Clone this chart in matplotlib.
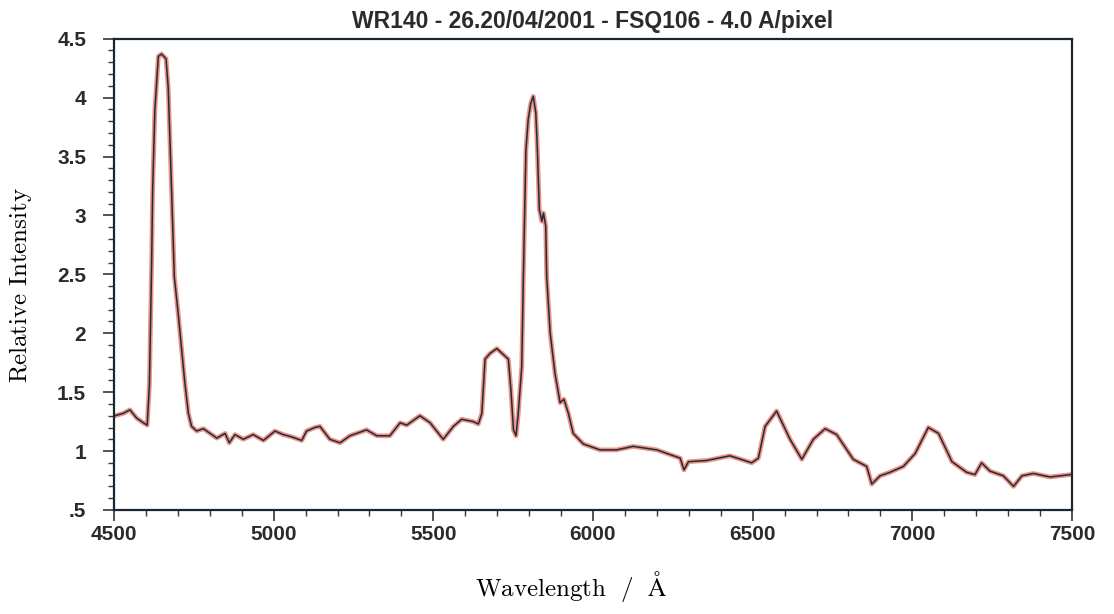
import matplotlib.pyplot as plt
from matplotlib.ticker import MultipleLocator

plt.rcParams["mathtext.fontset"] = "cm"

# Spectrum (wavelength in Angstrom, relative intensity)
wavelength = [
    4503, 4529, 4550, 4571, 4592, 4604, 4611, 4618, 4621, 4628, 4639, 4649,
    4663, 4670, 4679, 4689, 4701, 4712, 4722, 4733, 4743, 4759, 4780, 4801,
    4822, 4848, 4861, 4879, 4905, 4936, 4968, 5004, 5030, 5057, 5088, 5103,
    5129, 5145, 5176, 5208, 5239, 5291, 5323, 5364, 5396, 5417, 5458, 5490,
    5531, 5563, 5589, 5625, 5641, 5652, 5662, 5678, 5699, 5719, 5735, 5743,
    5751, 5759, 5766, 5777, 5782, 5790, 5797, 5805, 5813, 5821, 5826, 5832,
    5840, 5845, 5852, 5855, 5866, 5881, 5897, 5909, 5923, 5938, 5970, 6022,
    6074, 6126, 6200, 6273, 6285, 6299, 6356, 6429, 6497, 6518, 6539, 6575,
    6617, 6654, 6690, 6727, 6763, 6815, 6857, 6873, 6899, 6930, 6972, 7009,
    7050, 7082, 7124, 7170, 7196, 7217, 7243, 7285, 7317, 7343, 7379, 7431,
    7494,
]
intensity = [
    1.30, 1.32, 1.35, 1.28, 1.24, 1.22, 1.56, 2.60, 3.20, 3.89, 4.35, 4.37,
    4.33, 4.08, 3.33, 2.48, 2.17, 1.86, 1.58, 1.32, 1.21, 1.17, 1.19, 1.15,
    1.11, 1.15, 1.07, 1.14, 1.10, 1.14, 1.09, 1.17, 1.14, 1.12, 1.09, 1.17,
    1.20, 1.21, 1.10, 1.07, 1.13, 1.18, 1.13, 1.13, 1.24, 1.22, 1.30, 1.24,
    1.10, 1.21, 1.27, 1.25, 1.23, 1.32, 1.78, 1.83, 1.87, 1.82, 1.78, 1.52,
    1.18, 1.13, 1.32, 1.72, 2.48, 3.55, 3.81, 3.95, 4.01, 3.87, 3.55, 3.05,
    2.95, 3.02, 2.91, 2.48, 2.00, 1.66, 1.41, 1.44, 1.32, 1.15, 1.06, 1.01,
    1.01, 1.04, 1.01, 0.94, 0.84, 0.91, 0.92, 0.96, 0.90, 0.94, 1.21, 1.34,
    1.10, 0.93, 1.10, 1.19, 1.14, 0.93, 0.87, 0.72, 0.79, 0.82, 0.87, 0.98,
    1.20, 1.15, 0.91, 0.82, 0.80, 0.90, 0.83, 0.79, 0.70, 0.79, 0.81, 0.78,
    0.80,
]

x_ticks = [4500, 5000, 5500, 6000, 6500, 7000, 7500]
y_ticks = [0.5, 1, 1.5, 2, 2.5, 3, 3.5, 4, 4.5]
y_tick_labels = [".5", "1", "1.5", "2", "2.5", "3", "3.5", "4", "4.5"]

title = "WR140 - 26.20/04/2001 - FSQ106 - 4.0 A/pixel"

fig = plt.figure(figsize=(11.14, 6.14), dpi=100)
ax = fig.add_axes([0.1023, 0.1694, 0.86, 0.7676])

# reddish halo under the dark trace, like the scanned original
ax.plot(wavelength, intensity, color="#e8705e", lw=3.4, alpha=0.75)
ax.plot(wavelength, intensity, color="#1e2c3c", lw=1.1)

ax.set_xlim(4500, 7500)
ax.set_ylim(0.5, 4.5)

ax.set_xticks(x_ticks)
ax.set_yticks(y_ticks)
ax.set_yticklabels(y_tick_labels)
ax.xaxis.set_minor_locator(MultipleLocator(100))
ax.yaxis.set_minor_locator(MultipleLocator(0.1))

tick_font = {"family": "Liberation Sans", "weight": "bold", "size": 15}
for lab in ax.get_xticklabels() + ax.get_yticklabels():
    lab.set_fontproperties(tick_font)
    lab.set_color("#2b2b2b")

ax.tick_params(which="major", direction="out", length=8, width=1.2,
               color="#2a3a48")
ax.tick_params(which="minor", direction="out", length=4, width=1.0,
               color="#2a3a48")
ax.tick_params(axis="y", which="major", pad=12)
ax.tick_params(axis="x", which="major", pad=3)

for side in ["left", "right", "top", "bottom"]:
    ax.spines[side].set_color("#1a2630")
    ax.spines[side].set_linewidth(1.6)

ax.set_title(title, fontfamily="Liberation Sans", fontweight="bold",
             fontsize=16.5, color="#2b2b2b", pad=8)

ax.set_xlabel(r"$\mathrm{Wavelength\ \ /\ \ \AA}$", fontsize=18)
ax.set_ylabel(r"$\mathrm{Relative\ Intensity}$", fontsize=18)
ax.xaxis.set_label_coords(0.477, -0.125)
ax.yaxis.set_label_coords(-0.083, 0.477)

fig.savefig("out.png", dpi=100)
